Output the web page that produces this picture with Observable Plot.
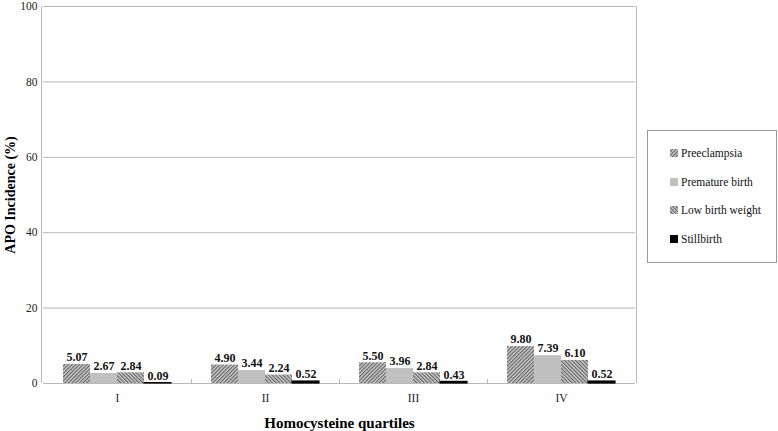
<!DOCTYPE html>
<html>
<head>
<meta charset="utf-8">
<script src="https://cdn.jsdelivr.net/npm/d3@7"></script>
<script src="https://cdn.jsdelivr.net/npm/@observablehq/plot@0.6"></script>
<style>
  body { margin: 0; background: #fff; }
  #wrap { position: relative; width: 778px; height: 431px; }
  [aria-label="y-axis label"] text, [aria-label="y-axis label"] { font-weight: bold; font-size: 14px; fill: #000; }
  [aria-label="fx-axis label"] text, [aria-label="fx-axis label"] { font-weight: bold; font-size: 15px; fill: #000; }
</style>
</head>
<body>
<svg width="0" height="0" style="position:absolute">
  <defs>
    <pattern id="hatchA" width="2.6" height="2.6" patternUnits="userSpaceOnUse" patternTransform="rotate(45)">
      <rect width="2.6" height="2.6" fill="#c4c4c4"></rect>
      <line x1="0.5" y1="0" x2="0.5" y2="2.6" stroke="#606060" stroke-width="1"></line>
    </pattern>
    <pattern id="hatchB" width="2.6" height="2.6" patternUnits="userSpaceOnUse" patternTransform="rotate(-45)">
      <rect width="2.6" height="2.6" fill="#c4c4c4"></rect>
      <line x1="0.5" y1="0" x2="0.5" y2="2.6" stroke="#606060" stroke-width="1"></line>
    </pattern>
  </defs>
</svg>
<div id="wrap"></div>
<script>
const quartiles = ["I", "II", "III", "IV"];
const seriesNames = ["Preeclampsia", "Premature birth", "Low birth weight", "Stillbirth"];
const preeclampsia = [5.07, 4.90, 5.50, 9.80];
const prematureBirth = [2.67, 3.44, 3.96, 7.39];
const lowBirthWeight = [2.84, 2.24, 2.84, 6.10];
const stillbirth = [0.09, 0.52, 0.43, 0.52];
const yTicks = [0, 20, 40, 60, 80, 100];
const seriesFills = ["url(#hatchA)", "#c0c0c0", "url(#hatchB)", "#000000"];

const seriesValues = [preeclampsia, prematureBirth, lowBirthWeight, stillbirth];
const data = [];
quartiles.forEach((q, i) => {
  seriesNames.forEach((s, j) => data.push({q, s, v: seriesValues[j][i]}));
});

const gridColor = "#b8b8b8";
const serif = "Liberation Serif, serif";

const chart = Plot.plot({
  width: 778,
  height: 431,
  marginLeft: 41,
  marginRight: 142,
  marginTop: 6,
  marginBottom: 48,
  style: {fontFamily: serif, fontSize: "11.5px", color: "#222", background: "transparent"},
  fx: {domain: quartiles, padding: 0, tickSize: 0, tickPadding: 10, label: "Homocysteine quartiles", labelAnchor: "center", labelOffset: 44, labelArrow: "none"},
  x: {domain: seriesNames, paddingInner: 0, paddingOuter: 0.73, axis: null},
  y: {domain: [0, 100], ticks: yTicks, tickSize: 0, tickPadding: 6, label: "APO Incidence (%)", labelAnchor: "center", labelArrow: "none"},
  color: {domain: seriesNames, range: seriesFills, type: "ordinal"},
  marks: [
    Plot.ruleY(yTicks, {stroke: gridColor, strokeWidth: 1}),
    Plot.barY(data, {fx: "q", x: "s", y: "v", fill: "s", inset: 0}),
    Plot.barY(data, {fx: "q", x: "s", y: "v", filter: d => d.s === "Stillbirth", fill: "#000", stroke: "#000", strokeWidth: 1.2, inset: 0}),
    Plot.text(data, {fx: "q", x: "s", y: "v", text: d => d.v.toFixed(2), dy: -7, fontWeight: "bold", fontSize: 12, fill: "#111"})
  ]
});

// left/right borders and group-boundary ticks from the fx and y scales
const svg = d3.select(chart);
const fxScale = Plot.scale({fx: chart.scale("fx")});
const yScale = Plot.scale({y: chart.scale("y")});
const [r0, r1] = chart.scale("fx").range;
const y0 = yScale.apply(0), y100 = yScale.apply(100);
const g = svg.append("g").attr("stroke", gridColor).attr("stroke-width", 1);
[r0, r1].forEach(x => g.append("line").attr("x1", x + 0.5).attr("x2", x + 0.5).attr("y1", y100).attr("y2", y0));
quartiles.slice(1).forEach(q => {
  const x = Math.round(fxScale.apply(q)) + 0.5;
  g.append("line").attr("x1", x).attr("x2", x).attr("y1", y0 - 4).attr("y2", y0);
});

// legend (SVG, in the right margin)
const lg = svg.append("g").attr("transform", "translate(647,130)")
  .attr("font-family", serif).attr("font-size", 11.5).attr("text-anchor", "start");
lg.append("rect").attr("x", 0.5).attr("y", 0.5).attr("width", 129).attr("height", 132)
  .attr("fill", "#fff").attr("stroke", "#999");
const tops = [23, 52, 80, 109];
seriesNames.forEach((s, j) => {
  lg.append("rect").attr("x", 23).attr("y", tops[j] - 4).attr("width", 8).attr("height", 8).attr("fill", seriesFills[j]);
  lg.append("text").attr("x", 34).attr("y", tops[j]).attr("dy", "0.35em").attr("text-anchor", "start").attr("fill", "#111").text(s);
});

document.getElementById("wrap").appendChild(chart);
</script>
</body>
</html>
